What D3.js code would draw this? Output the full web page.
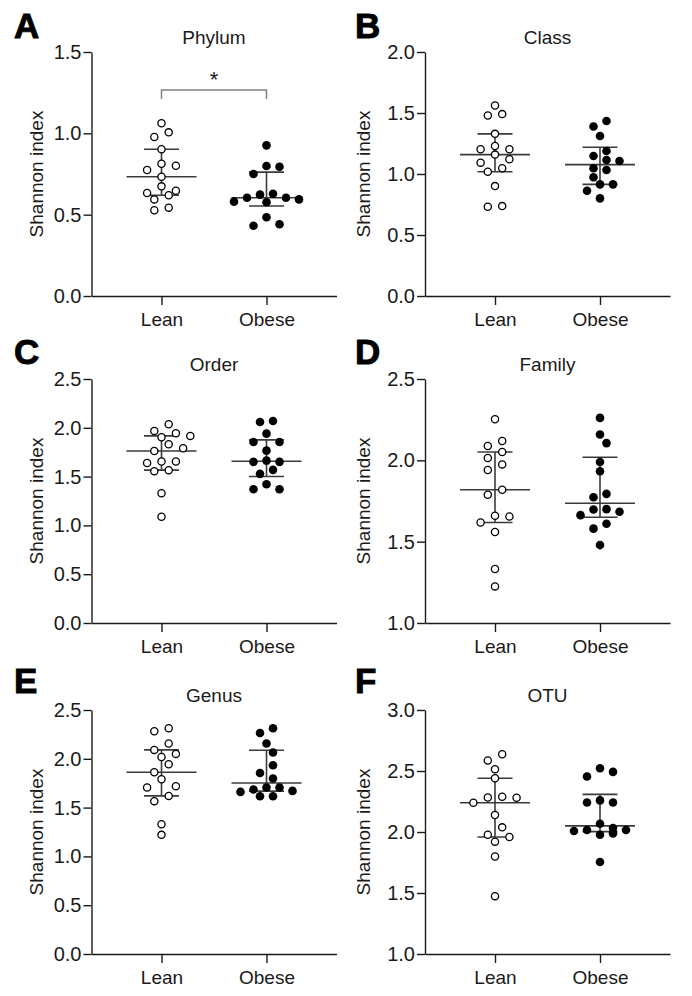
<!DOCTYPE html>
<html>
<head>
<meta charset="utf-8">
<script src="https://cdn.jsdelivr.net/npm/d3@7"></script>
<style>
  html, body { margin: 0; padding: 0; background: #fff; }
  svg { display: block; font-family: "Liberation Sans", Arial, sans-serif; }
</style>
</head>
<body>
<svg id="chart" width="692" height="996"></svg>
<script>
// ---------------- data (Shannon index per subject) ----------------
const groups = ["Lean", "Obese"];

const phylumLean  = [1.062, 1.006, 0.977, 0.902, 0.813, 0.801, 0.775, 0.733, 0.674, 0.647, 0.633, 0.619, 0.594, 0.543, 0.527];
const phylumObese = [0.926, 0.799, 0.795, 0.750, 0.629, 0.623, 0.604, 0.604, 0.594, 0.580, 0.576, 0.484, 0.441, 0.432];

const classLean  = [1.561, 1.491, 1.479, 1.329, 1.230, 1.203, 1.203, 1.159, 1.121, 1.093, 1.047, 1.019, 0.901, 0.737, 0.731];
const classObese = [1.435, 1.389, 1.312, 1.189, 1.148, 1.115, 1.107, 1.047, 1.033, 0.973, 0.915, 0.915, 0.863, 0.800];

const orderLean  = [2.036, 1.968, 1.944, 1.917, 1.903, 1.832, 1.791, 1.763, 1.654, 1.654, 1.640, 1.566, 1.555, 1.330, 1.088];
const orderObese = [2.070, 2.060, 1.940, 1.855, 1.855, 1.766, 1.664, 1.651, 1.651, 1.569, 1.528, 1.422, 1.371, 1.371];

const familyLean  = [2.253, 2.119, 2.088, 2.051, 2.014, 1.975, 1.941, 1.819, 1.788, 1.659, 1.655, 1.618, 1.559, 1.332, 1.225];
const familyObese = [2.261, 2.159, 2.106, 1.990, 1.933, 1.794, 1.773, 1.700, 1.698, 1.684, 1.663, 1.610, 1.580, 1.479];

const genusLean  = [2.313, 2.282, 2.156, 2.091, 2.050, 2.019, 1.944, 1.862, 1.791, 1.719, 1.706, 1.620, 1.566, 1.330, 1.221];
const genusObese = [2.313, 2.265, 2.156, 2.064, 1.934, 1.855, 1.798, 1.706, 1.706, 1.685, 1.671, 1.661, 1.617, 1.617];

const otuLean  = [2.637, 2.586, 2.515, 2.441, 2.289, 2.283, 2.281, 2.240, 2.139, 2.038, 1.978, 1.959, 1.921, 1.799, 1.474];
const otuObese = [2.523, 2.493, 2.455, 2.259, 2.242, 2.242, 2.068, 2.032, 2.016, 2.016, 2.008, 1.989, 1.978, 1.754];

const phylumTicks = [0, 0.5, 1.0, 1.5];
const classTicks  = [0, 0.5, 1.0, 1.5, 2.0];
const orderTicks  = [0, 0.5, 1.0, 1.5, 2.0, 2.5];
const familyTicks = [1.0, 1.5, 2.0, 2.5];
const genusTicks  = [0, 0.5, 1.0, 1.5, 2.0, 2.5];
const otuTicks    = [1.0, 1.5, 2.0, 2.5, 3.0];

const panelLetters = ["A", "B", "C", "D", "E", "F"];
const panelTitles  = ["Phylum", "Class", "Order", "Family", "Genus", "OTU"];
const yTitle = "Shannon index";
const sigLabel = "*";
const sigLevel = 1.266; // bracket height in panel A (data units)

// ---------------- layout ----------------
const colX = [91.5, 425];
const rowTop = [52, 379, 710];
const plotH = 244, plotW = 245;
const letterX = [14, 355];
const letterBase = [38, 364, 693];
const yLabelOff = [49, 55];
const FS = 19;
const ink = "#1a1a1a";

const panels = [
  { lean: phylumLean, obese: phylumObese, ticks: phylumTicks, sig: true },
  { lean: classLean,  obese: classObese,  ticks: classTicks },
  { lean: orderLean,  obese: orderObese,  ticks: orderTicks },
  { lean: familyLean, obese: familyObese, ticks: familyTicks },
  { lean: genusLean,  obese: genusObese,  ticks: genusTicks },
  { lean: otuLean,    obese: otuObese,    ticks: otuTicks }
];

// Prism-style quantile (p*(n+1) basis)
function pq(vals, p) {
  const s = vals.slice().sort((a, b) => a - b), n = s.length;
  const pos = p * (n + 1);
  if (pos <= 1) return s[0];
  if (pos >= n) return s[n - 1];
  const lo = Math.floor(pos), f = pos - lo;
  return s[lo - 1] + f * (s[lo] - s[lo - 1]);
}

// row-based symmetric scatter (Prism-like)
function swarm(vals, y, cx, spacing, rowH, minD) {
  const pts = vals.map(v => ({ v, y: y(v) })).sort((a, b) => a.y - b.y);
  const placed = [];
  let i = 0;
  while (i < pts.length) {
    const row = [pts[i]];
    let j = i + 1;
    while (j < pts.length && pts[j].y - pts[i].y < rowH) { row.push(pts[j]); j++; }
    const n = row.length;
    const slots = d3.range(n).map(k => k - (n - 1) / 2)
      .sort((a, b) => Math.abs(a) - Math.abs(b) || b - a);
    row.forEach((p, k) => p.o = slots[k] * spacing);
    const shifts = [0, spacing / 2, -spacing / 2, spacing, -spacing];
    let best = 0, bestC = Infinity;
    for (const s of shifts) {
      const c = row.reduce((acc, p) =>
        acc + placed.filter(q => Math.hypot(q.o - (p.o + s), q.y - p.y) < minD).length, 0);
      if (c < bestC) { bestC = c; best = s; if (c === 0) break; }
    }
    row.forEach(p => { p.o += best; placed.push(p); });
    i = j;
  }
  pts.forEach(p => p.x = cx + p.o);
  return pts;
}

const svg = d3.select("#chart");
svg.append("rect").attr("width", 692).attr("height", 996).attr("fill", "#fff");

panels.forEach((P, i) => {
  const col = i % 2, row = Math.floor(i / 2);
  const x0 = colX[col], top = rowTop[row];
  const g = svg.append("g").attr("transform", `translate(${x0},${top})`);

  const y = d3.scaleLinear().domain([P.ticks[0], P.ticks[P.ticks.length - 1]]).range([plotH, 0]);
  const x = d3.scalePoint().domain(groups).range([0, plotW]).padding(2 / 3);

  // axes
  const ya = g.append("g").call(d3.axisLeft(y).tickValues(P.ticks).tickFormat(d3.format(".1f"))
    .tickSize(8).tickPadding(2).tickSizeOuter(0));
  const xa = g.append("g").attr("transform", `translate(0,${plotH})`)
    .call(d3.axisBottom(x).tickSize(9).tickPadding(8).tickSizeOuter(0));
  [ya, xa].forEach(a => {
    a.selectAll("path, line").attr("stroke", ink).attr("stroke-width", 1.4);
    a.selectAll("text").attr("fill", ink).attr("font-size", FS)
      .attr("font-family", "'Liberation Sans', Arial, sans-serif");
  });
  ya.selectAll("text").attr("font-size", 20);

  // y title
  g.append("text")
    .attr("transform", `translate(${-yLabelOff[col]},${plotH / 2}) rotate(-90)`)
    .attr("text-anchor", "middle").attr("font-size", FS).attr("fill", ink)
    .text(yTitle);

  // panel title
  g.append("text")
    .attr("x", (x("Lean") + x("Obese")) / 2).attr("y", -8)
    .attr("text-anchor", "middle").attr("font-size", FS).attr("fill", ink)
    .text(panelTitles[i]);

  // panel letter
  svg.append("text")
    .attr("x", letterX[col]).attr("y", letterBase[row])
    .attr("font-size", 35).attr("font-weight", "bold").attr("fill", "#000")
    .attr("stroke", "#000").attr("stroke-width", 0.9)
    .text(panelLetters[i]);

  // median + IQR
  groups.forEach(grp => {
    const vals = grp === "Lean" ? P.lean : P.obese;
    const cx = x(grp);
    const med = pq(vals, 0.5), q1 = pq(vals, 0.25), q3 = pq(vals, 0.75);
    const eg = g.append("g").attr("stroke", "#3a3a3a").attr("stroke-width", 1.6);
    eg.append("line").attr("x1", cx).attr("x2", cx).attr("y1", y(q1)).attr("y2", y(q3));
    eg.append("line").attr("x1", cx - 17.5).attr("x2", cx + 17.5).attr("y1", y(q1)).attr("y2", y(q1));
    eg.append("line").attr("x1", cx - 17.5).attr("x2", cx + 17.5).attr("y1", y(q3)).attr("y2", y(q3));
    eg.append("line").attr("x1", cx - 35).attr("x2", cx + 35).attr("y1", y(med)).attr("y2", y(med));
  });

  // points
  const leanPts = swarm(P.lean, y, x("Lean"), 14.4, 8.5, 8.5);
  const obesePts = swarm(P.obese, y, x("Obese"), 13, 8.5, 9);
  g.append("g").selectAll("circle").data(leanPts).join("circle")
    .attr("cx", d => d.x).attr("cy", d => d.y).attr("r", 3.6)
    .attr("fill", "#fff").attr("stroke", "#000").attr("stroke-width", 1.3);
  g.append("g").selectAll("circle").data(obesePts).join("circle")
    .attr("cx", d => d.x).attr("cy", d => d.y).attr("r", 4.3)
    .attr("fill", "#000");

  // significance bracket
  if (P.sig) {
    const by = y(sigLevel), x1 = x("Lean"), x2 = x("Obese");
    g.append("path")
      .attr("d", `M${x1},${by + 9}V${by}H${x2}V${by + 9}`)
      .attr("fill", "none").attr("stroke", "#808080").attr("stroke-width", 1.5);
    g.append("text").attr("x", (x1 + x2) / 2).attr("y", by - 3)
      .attr("text-anchor", "middle").attr("font-size", 22).attr("fill", ink)
      .text(sigLabel);
  }
});
</script>
</body>
</html>
